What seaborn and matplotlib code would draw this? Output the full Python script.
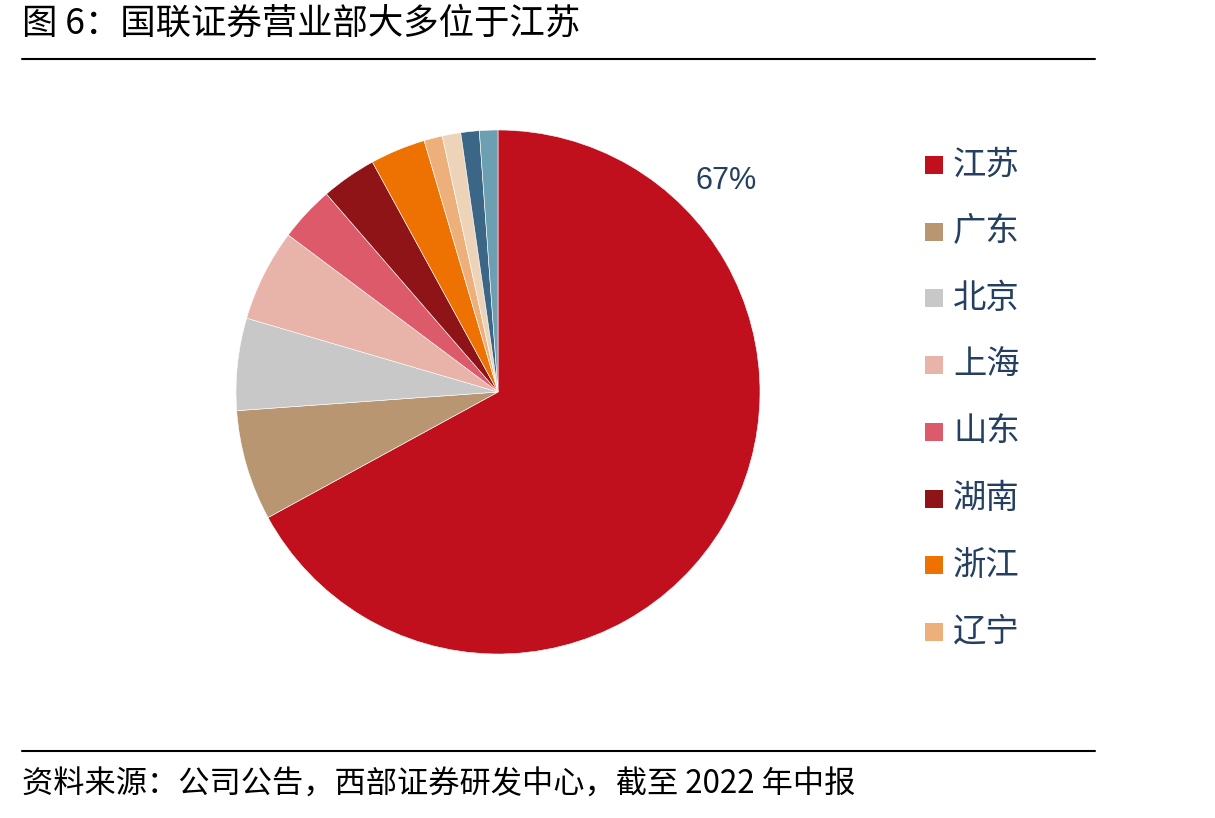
import matplotlib
matplotlib.use('Agg')
import matplotlib.pyplot as plt
import seaborn as sns
from matplotlib.patches import Rectangle
from matplotlib.lines import Line2D

# ---- data ----
provinces = ['江苏', '广东', '北京', '上海', '山东', '湖南', '浙江', '辽宁', '其他A', '其他B', '其他C']
counts = [59, 6, 5, 5, 3, 3, 3, 1, 1, 1, 1]
legend_count = 8
hex_colors = ['#C00F1D', '#B89672', '#C8C8C8', '#E8B3A8', '#DD5A6B', '#8E1417',
              '#EE7202', '#EEB07A', '#EDD3B8', '#3B6685', '#6C9FB2']
title = '图 6：国联证券营业部大多位于江苏'
source = '资料来源：公司公告，西部证券研发中心，截至 2022 年中报'

sns.set_theme(style='white')
plt.rcParams['font.family'] = ['Noto Sans CJK SC', 'DejaVu Sans']
palette = sns.color_palette(hex_colors)

W, H = 1215, 818
fig = plt.figure(figsize=(W / 100, H / 100), dpi=100)
fig.patch.set_facecolor('white')

cx, cy, r = 498, 392, 262
ax = fig.add_axes([(cx - r) / W, 1 - (cy + r) / H, 2 * r / W, 2 * r / H])
wedges, _ = ax.pie(counts, colors=palette, startangle=90, counterclock=False,
                   wedgeprops=dict(edgecolor='white', linewidth=0.4))
ax.set_xlim(-1, 1)
ax.set_ylim(-1, 1)
ax.axis('off')

share = counts[0] / sum(counts) * 100
ax.text(0.87, 0.805, f'{share:.0f}%', fontsize=22, color='#243F60',
        ha='center', va='center', family=['Liberation Sans', 'DejaVu Sans'])

navy = '#243F60'
# title & rules
fig.text(22 / W, 1 - 24 / H, title, fontsize=25.5, va='center', ha='left', color='black')
fig.add_artist(Line2D([22 / W, 1095 / W], [1 - 59 / H] * 2, color='black', lw=1.5))
fig.add_artist(Line2D([22 / W, 1095 / W], [1 - 751 / H] * 2, color='black', lw=1.5))
fig.text(22 / W, 1 - 785 / H, source, fontsize=22.5, va='center', ha='left', color='black')

# legend
for i in range(legend_count):
    y = 165 + i * 66.7
    fig.add_artist(Rectangle((925 / W, 1 - (y + 9) / H), 18 / W, 18 / H,
                             facecolor=palette[i], edgecolor='none',
                             transform=fig.transFigure))
    fig.text(953 / W, 1 - y / H, provinces[i], fontsize=24, va='center', ha='left', color=navy)

fig.savefig('out.png', dpi=100, facecolor='white')
